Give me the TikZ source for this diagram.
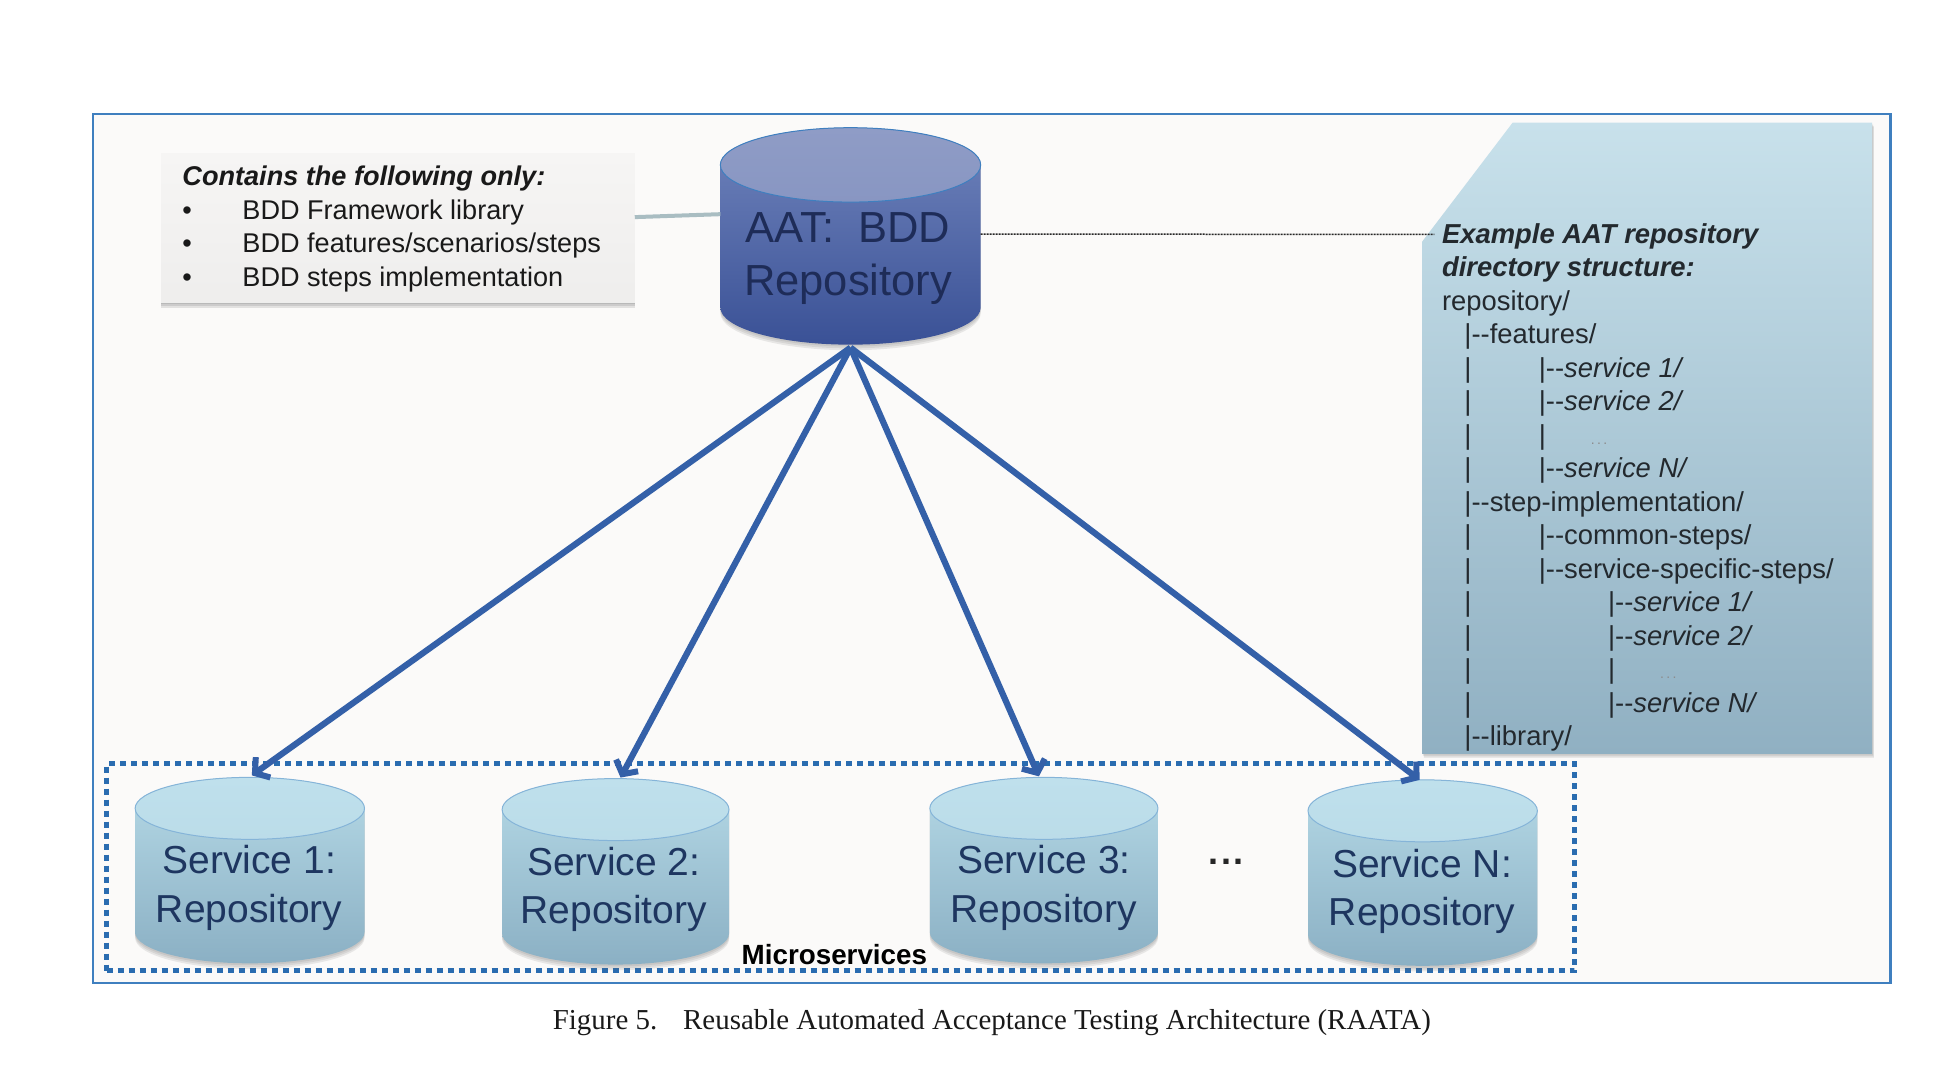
\documentclass[tikz,border=0pt]{standalone}
\usepackage{fontspec}
\setmainfont{Liberation Sans}
\newfontfamily\arialf{Liberation Sans}
\newfontfamily\timesf{Liberation Serif}
\usetikzlibrary{arrows.meta,calc}
\definecolor{framec}{HTML}{3F7FBF}
\definecolor{bgc}{HTML}{FBFAF9}
\definecolor{arrowc}{HTML}{3460A8}
\definecolor{dotc}{HTML}{2A6CB0}
\definecolor{aattop}{HTML}{8F9CC6}
\definecolor{aatmid}{HTML}{7084BC}
\definecolor{aatbot}{HTML}{3A5196}
\definecolor{svctop}{HTML}{BFE0EC}
\definecolor{svcbody}{HTML}{B5D9E6}
\definecolor{svcbot}{HTML}{8BB0C4}
\definecolor{paneltop}{HTML}{C8E1EB}
\definecolor{panelmid}{HTML}{ADD2E0}
\definecolor{panelbot}{HTML}{90B0C2}
\definecolor{aattext}{HTML}{1E2C58}
\definecolor{svctext}{HTML}{1E3660}
\definecolor{treetext}{HTML}{23292E}
\definecolor{calltailc}{HTML}{A9BDC2}
\tikzset{
  frame/.style={draw=framec,line width=2.5pt,fill=bgc},
  flow/.style={draw=arrowc,line width=6.2pt,-{Straight Barb[length=10pt,width=25pt,line width=6pt]}},
  dotbox/.style={draw=dotc,line width=5pt,dash pattern=on 6pt off 5pt},
  linkline/.style={draw=black!85,line width=1.5pt,dash pattern=on 2pt off 1pt},
  calltail/.style={draw=calltailc,line width=4pt},
  ghost/.style={inner sep=0pt,outer sep=0pt,draw=none},
  repolabel/.style={align=center,inner sep=0pt,font=\arialf\fontsize{39}{48.5}\selectfont,text=svctext},
  aatlabel/.style={align=center,inner sep=0pt,font=\arialf\fontsize{43.5}{53.5}\selectfont,text=aattext},
  notetext/.style={align=left,inner sep=0pt,anchor=north west,font=\arialf\fontsize{27.1}{33.5}\selectfont,text=black!90},
  treetxt/.style={align=left,inner sep=0pt,anchor=north west,font=\arialf\fontsize{27.4}{33.5}\selectfont,text=treetext},
}
\newcommand{\cylpath}{(\xl,\yone) -- (\xl,\ytwo) .. controls (\xl,\ytwo+\kry) and (\xm-\kw,\yb) .. (\xm,\yb) .. controls (\xm+\kw,\yb) and (\xr,\ytwo+\kry) .. (\xr,\ytwo) -- (\xr,\yone) .. controls (\xr,\yone-\kry) and (\xm+\kw,\yt) .. (\xm,\yt) .. controls (\xm-\kw,\yt) and (\xl,\yone-\kry) .. cycle}
\newcommand{\edgecol}{framec}
\newcommand{\repocyl}[9]{%
  \def\xl{#2}\def\xr{#3}\def\yt{#4}\def\yb{#5}%
  \pgfmathsetmacro{\xm}{(#2+#3)/2}%
  \pgfmathsetmacro{\wid}{(#3-#2)/2}%
  \pgfmathsetmacro{\kw}{0.5523*\wid}%
  \pgfmathsetmacro{\kry}{0.5523*#6}%
  \pgfmathsetmacro{\yone}{#4+#6}%
  \pgfmathsetmacro{\ytwo}{#5-#6}%
  \foreach \sh in {1.5,3,4.5}{\fill[black!60,opacity=.13,shift={(0,\sh)}] \cylpath;}
  \shade[top color=#7,bottom color=#8,middle color=#7!50!#8] \cylpath;
  \shade[top color=#9,bottom color=#9!92!#8,draw=\edgecol,line width=1pt]
    (\xl,\yone) .. controls (\xl,\yone-\kry) and (\xm-\kw,\yt) .. (\xm,\yt) .. controls (\xm+\kw,\yt) and (\xr,\yone-\kry) .. (\xr,\yone) .. controls (\xr,\yone+\kry) and (\xm+\kw,\yone+#6) .. (\xm,\yone+#6) .. controls (\xm-\kw,\yone+#6) and (\xl,\yone+\kry) .. cycle;
  \pgfmathsetmacro{\wpt}{(#3-#2)*1.2398}%
  \pgfmathsetmacro{\hpt}{(#5-#4)*1.2398}%
  \pgfmathsetmacro{\ym}{(#4+#5)/2}%
  \node[ghost,minimum width=\wpt pt,minimum height=\hpt pt] (#1) at (\xm,\ym) {};
}
\newcommand{\dbar}{\makebox[0pt][l]{\hspace*{22.3pt}|}}
\newcommand{\lvtwo}{\hspace*{96.7pt}}
\newcommand{\lvthree}{\hspace*{166pt}}
\newcommand{\faintdots}{\hspace*{45pt}{\color{black!45}\fontsize{14}{14}\selectfont .\,.\,.}}
\begin{document}
\begin{tikzpicture}[x=1.2398pt,y=-1.2398pt]
\useasboundingbox (0,0) rectangle (1568,859.8);
\fill[white] (0,0) rectangle (1568,859.8);
\node[frame,minimum width=1797.7pt,minimum height=869.1pt,inner sep=0pt] (outer) at (800,442.5) {};

% right panel
\foreach \sh in {1.5,3}{\fill[black!60,opacity=.18,shift={(\sh/2,\sh)}] (1220,99) -- (1510,99) -- (1510,608) -- (1147,608) -- (1147,195) -- cycle;}
\shade[top color=paneltop,middle color=panelmid,bottom color=panelbot] (1220,99) -- (1510,99) -- (1510,608) -- (1147,608) -- (1147,195) -- cycle;
\node[ghost,minimum width=450pt,minimum height=631pt] (panel) at (1328.5,353.5) {};
\node[treetxt] (tree) at (1163,180) {%
  {\bfseries\itshape Example AAT repository}\\
  {\bfseries\itshape directory structure:}\\
  repository/\\
  \hspace*{22.3pt}|--features/\\
  \dbar\lvtwo|--\textit{service 1/}\\
  \dbar\lvtwo|--\textit{service 2/}\\
  \dbar\lvtwo|\faintdots\\
  \dbar\lvtwo|--\textit{service N/}\\
  \hspace*{22.3pt}|--step-implementation/\\
  \dbar\lvtwo|--common-steps/\\
  \dbar\lvtwo|--service-specific-steps/\\
  \dbar\lvthree|--\textit{service 1/}\\
  \dbar\lvthree|--\textit{service 2/}\\
  \dbar\lvthree|\faintdots\\
  \dbar\lvthree|--\textit{service N/}\\
  \hspace*{22.3pt}|--library/};

% microservices box
\node[dotbox,minimum width=1468pt,minimum height=207pt,inner sep=0pt] (micro) at (678,699.5) {};

% service cylinders
\renewcommand{\edgecol}{framec!45!svctop}
\repocyl{s1}{109}{294}{627}{777}{25}{svcbody}{svcbot}{svctop}
\repocyl{s2}{405}{588}{628}{778}{25}{svcbody}{svcbot}{svctop}
\repocyl{s3}{750}{934}{627}{777}{25}{svcbody}{svcbot}{svctop}
\repocyl{sn}{1055}{1240}{629}{779}{25}{svcbody}{svcbot}{svctop}
\node[repolabel] (s1t) at (201,716) {Service 1:\\Repository};
\node[repolabel] (s2t) at (495,717.5) {Service 2:\\Repository};
\node[repolabel] (s3t) at (842,716) {Service 3:\\Repository};
\node[repolabel] (snt) at (1147,719) {Service N:\\Repository};
\node[inner sep=0pt,font=\arialf\bfseries\fontsize{36}{36}\selectfont,text=black!85] (more) at (989,695) {.\hspace{2.5pt}.\hspace{2.5pt}.};
\node[inner sep=0pt,font=\arialf\bfseries\fontsize{27.8}{27.8}\selectfont,text=black] (mlabel) at (673,770) {Microservices};

% note box
\foreach \sh in {1.5,3,4.5}{\fill[black!70,opacity=.14,shift={(0,\sh)}] (130,124) rectangle (512,244);}
\shade[top color=bgc!98!black,bottom color=bgc!95!black] (130,124) rectangle (512,244);
\node[ghost,minimum width=473.6pt,minimum height=148.8pt] (note) at (321,184) {};
\node[notetext] (notet) at (147,134) {%
  {\bfseries\itshape Contains the following only:}\\
  \makebox[60pt][l]{\textbullet}BDD Framework library\\
  \makebox[60pt][l]{\textbullet}BDD features/scenarios/steps\\
  \makebox[60pt][l]{\textbullet}BDD steps implementation};

% AAT cylinder
\renewcommand{\edgecol}{framec}
\repocyl{aat}{581}{791}{103}{278}{30}{aatmid}{aatbot}{aattop}
\node[aatlabel] (aatt) at (684,208.5) {AAT:~~BDD\\Repository};

% connectors
\draw[calltail] ([yshift=11pt]note.east) -- ([yshift=22pt]aat.west);
\coordinate (dotend) at (1157,189);
\draw[linkline] ([yshift=2pt]aat.east) -- (dotend);
\draw[flow] ([yshift=-3pt]aat.south) -- ([xshift=2pt,yshift=2pt]s1.north);
\draw[flow] ([yshift=-3pt]aat.south) -- ([xshift=5pt,yshift=1pt]s2.north);
\draw[flow] ([yshift=-3pt]aat.south) -- ([xshift=-5pt,yshift=1pt]s3.north);
\draw[flow] ([yshift=-3pt]aat.south) -- ([xshift=-3pt,yshift=0pt]sn.north);

% caption
\node[inner sep=0pt,font=\timesf\fontsize{28.9}{28.9}\selectfont,text=black!90] (cap) at (800,825) {Figure 5.\hspace{26pt}Reusable Automated Acceptance Testing Architecture (RAATA)};
\end{tikzpicture}
\end{document}
